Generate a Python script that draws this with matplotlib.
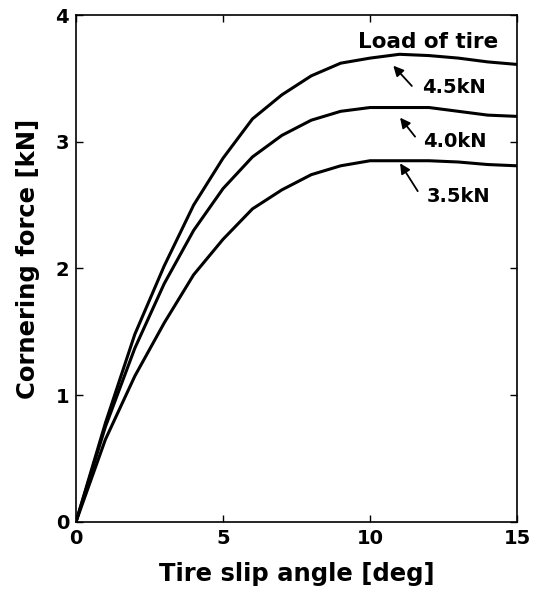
import matplotlib
matplotlib.use("Agg")
import matplotlib.pyplot as plt

plt.rcParams['font.family'] = ['DejaVu Sans']
plt.rcParams['font.weight'] = 'bold'

slip_angle = [0, 1, 2, 3, 4, 5, 6, 7, 8, 9, 10, 11, 12, 13, 14, 15]
force_45 = [0, 0.78, 1.48, 2.02, 2.50, 2.87, 3.18, 3.37, 3.52, 3.62, 3.66, 3.69, 3.68, 3.66, 3.63, 3.61]
force_40 = [0, 0.75, 1.37, 1.88, 2.30, 2.63, 2.88, 3.05, 3.17, 3.24, 3.27, 3.27, 3.27, 3.24, 3.21, 3.20]
force_35 = [0, 0.65, 1.15, 1.57, 1.95, 2.23, 2.47, 2.62, 2.74, 2.81, 2.85, 2.85, 2.85, 2.84, 2.82, 2.81]
load_labels = ["4.5kN", "4.0kN", "3.5kN"]
x_ticks = [0, 5, 10, 15]
y_ticks = [0, 1, 2, 3, 4]

fig = plt.figure(figsize=(5.37, 5.89), dpi=100)
ax = fig.add_axes([0.1415, 0.114, 0.8215, 0.8605])

for f in (force_45, force_40, force_35):
    ax.plot(slip_angle, f, color='black', lw=2.2, solid_joinstyle='miter')

ax.set_xlim(0, 15)
ax.set_ylim(0, 4)
ax.set_xticks(x_ticks)
ax.set_yticks(y_ticks)
ax.tick_params(direction='in', top=True, right=True, length=5, width=1,
               labelsize=14, pad=5)
for lab in ax.get_xticklabels() + ax.get_yticklabels():
    lab.set_fontweight('bold')
for s in ax.spines.values():
    s.set_linewidth(1.2)

ax.set_xlabel("Tire slip angle [deg]", fontsize=17.5, fontweight='bold', labelpad=10)
ax.set_ylabel("Cornering force [kN]", fontsize=17.5, fontweight='bold', labelpad=11, y=0.518)

ax.text(9.6, 3.79, "Load of tire", fontsize=15.5, fontweight='bold', va='center', ha='left')

arrows = [((11.42, 3.44), (10.79, 3.60), (11.76, 3.43)),
          ((11.53, 3.04), (11.02, 3.19), (11.79, 3.00)),
          ((11.62, 2.61), (11.02, 2.83), (11.93, 2.57))]
for lab, (tail, head, tpos) in zip(load_labels, arrows):
    ax.annotate("", xy=head, xytext=tail,
                arrowprops=dict(arrowstyle='-|>', color='black', lw=1.3,
                                mutation_scale=15, shrinkA=0, shrinkB=0))
    ax.text(tpos[0], tpos[1], lab, fontsize=14, fontweight='bold', va='center', ha='left')

fig.savefig("out.png", dpi=100)
